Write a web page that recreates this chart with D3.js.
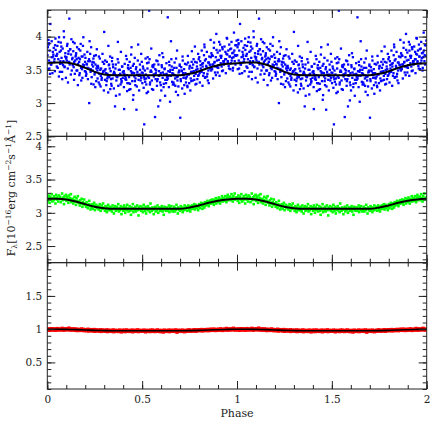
<!DOCTYPE html>
<html>
<head>
<meta charset="utf-8">
<script src="https://cdnjs.cloudflare.com/ajax/libs/d3/7.8.5/d3.min.js"></script>
<style>
  body { margin: 0; background: #fff; }
  svg { display: block; }
  .axis text { font-family: "DejaVu Serif", serif; font-size: 10.5px; fill: #222; }
  .axis path { display: none; }
  .axis line { stroke: #222; stroke-width: 1; }
</style>
</head>
<body>
<svg id="chart"></svg>
<script>
// Observed phases (one cycle, plotted twice)
const phase = [
  0.001,0.004,0.007,0.009,0.012,0.016,0.019,0.023,0.027,0.031,
  0.034,0.036,0.040,0.043,0.047,0.050,0.053,0.058,0.061,0.065,
  0.068,0.071,0.075,0.078,0.081,0.085,0.088,0.091,0.095,0.098,
  0.101,0.104,0.108,0.111,0.114,0.116,0.120,0.124,0.127,0.131,
  0.134,0.137,0.141,0.144,0.147,0.151,0.154,0.157,0.161,0.165,
  0.168,0.171,0.174,0.178,0.181,0.185,0.188,0.190,0.194,0.198,
  0.201,0.204,0.207,0.211,0.214,0.218,0.221,0.224,0.228,0.231,
  0.234,0.238,0.241,0.244,0.247,0.251,0.254,0.258,0.261,0.264,
  0.267,0.271,0.274,0.277,0.281,0.284,0.287,0.291,0.294,0.298,
  0.300,0.304,0.307,0.311,0.314,0.317,0.321,0.324,0.327,0.331,
  0.334,0.337,0.341,0.344,0.347,0.351,0.354,0.357,0.361,0.364,
  0.367,0.371,0.374,0.377,0.381,0.384,0.388,0.391,0.394,0.398,
  0.401,0.404,0.405,0.408,0.411,0.415,0.418,0.421,0.425,0.428,
  0.431,0.434,0.438,0.441,0.444,0.448,0.451,0.454,0.458,0.461,
  0.464,0.467,0.470,0.474,0.477,0.481,0.484,0.488,0.491,0.495,
  0.498,0.501,0.504,0.508,0.511,0.514,0.518,0.521,0.524,0.528,
  0.531,0.534,0.537,0.541,0.544,0.548,0.551,0.554,0.558,0.561,
  0.564,0.568,0.571,0.574,0.578,0.581,0.585,0.588,0.591,0.595,
  0.598,0.601,0.604,0.608,0.611,0.614,0.618,0.621,0.625,0.628,
  0.631,0.635,0.638,0.641,0.644,0.647,0.651,0.654,0.658,0.661,
  0.664,0.668,0.671,0.674,0.678,0.681,0.684,0.688,0.691,0.695,
  0.698,0.701,0.704,0.708,0.711,0.714,0.718,0.721,0.724,0.728,
  0.731,0.734,0.738,0.741,0.744,0.748,0.751,0.754,0.758,0.761,
  0.764,0.767,0.771,0.774,0.778,0.781,0.784,0.788,0.791,0.795,
  0.798,0.801,0.804,0.808,0.811,0.814,0.818,0.821,0.825,0.828,
  0.831,0.834,0.838,0.841,0.844,0.848,0.851,0.854,0.858,0.861,
  0.864,0.868,0.871,0.874,0.878,0.881,0.884,0.888,0.891,0.895,
  0.898,0.901,0.904,0.908,0.911,0.914,0.918,0.921,0.924,0.928,
  0.931,0.934,0.938,0.941,0.944,0.948,0.951,0.954,0.958,0.961,
  0.964,0.968,0.971,0.974,0.978,0.981,0.984,0.988,0.991,0.995
];

const blueFlux = [
  3.72,3.51,3.88,3.64,3.79,4.19,3.58,3.93,3.45,3.70,
  3.83,3.62,3.48,3.97,3.71,3.55,3.86,3.66,3.40,3.77,
  3.59,3.91,3.68,3.47,3.82,3.63,3.99,3.54,3.75,3.38,
  3.69,3.86,3.52,3.74,3.61,4.27,3.81,3.43,3.96,3.66,
  3.57,3.78,3.35,3.90,3.64,3.72,3.49,3.84,3.27,3.68,
  3.62,3.45,3.79,3.53,3.70,3.38,3.86,3.99,3.57,3.48,
  3.68,3.41,3.59,3.77,3.36,3.52,3.00,3.63,3.47,3.84,
  3.39,3.62,3.55,3.28,3.71,3.46,3.58,3.33,3.81,3.49,
  3.56,3.31,3.44,3.67,3.25,3.52,3.38,3.74,3.47,3.19,
  4.07,3.35,3.51,3.27,3.62,3.44,3.16,3.57,3.39,3.70,
  3.48,3.29,3.63,3.37,3.54,3.22,3.45,2.95,3.58,3.34,
  3.41,3.66,3.26,3.50,3.13,3.44,3.77,3.31,3.55,3.38,
  3.47,3.24,2.91,3.59,3.36,3.71,3.42,3.18,3.53,3.30,
  3.39,3.62,3.21,3.48,3.84,3.33,3.56,3.12,3.45,3.68,
  3.27,3.51,2.90,3.43,3.64,3.35,3.19,3.58,3.41,3.74,
  3.46,3.30,3.55,3.23,2.68,3.49,3.67,3.37,3.15,3.52,
  3.40,3.61,4.39,3.28,3.47,3.82,3.34,3.55,3.20,3.43,
  3.58,2.79,3.36,3.49,3.26,3.63,2.95,3.41,3.72,3.31,
  3.45,3.19,3.54,3.38,3.69,3.29,3.51,3.11,3.43,3.60,
  3.35,4.29,3.48,3.24,3.57,3.02,3.41,3.66,3.32,3.50,
  3.44,3.28,3.61,3.37,3.17,3.53,3.79,3.40,3.25,3.47,
  3.56,2.78,3.33,3.49,3.22,3.64,3.38,3.51,3.14,3.45,
  3.37,3.58,3.26,3.71,3.43,3.30,3.55,3.19,3.47,3.62,
  3.53,3.34,3.66,3.41,3.85,3.28,3.50,3.61,3.36,3.74,
  3.42,3.69,3.31,3.57,3.48,3.79,3.26,3.60,3.45,3.88,
  3.64,3.39,3.56,3.77,3.44,3.61,3.30,3.70,3.52,3.95,
  3.49,3.72,3.58,3.37,3.83,3.61,3.46,3.69,4.04,3.54,
  3.76,3.53,3.65,3.41,3.88,3.60,3.71,3.48,3.81,3.63,
  3.58,3.85,3.66,3.45,3.74,3.97,3.61,3.79,3.52,3.70,
  3.81,3.60,3.92,3.68,3.49,3.76,4.06,3.63,3.87,3.71
];

// extra blue-band observations
const bluePhase2 = [
  0.018,0.003,0.029,0.011,0.024,0.006,0.032,0.014,0.021,0.009,
  0.049,0.038,0.062,0.044,0.055,0.035,0.066,0.041,0.059,0.052,
  0.083,0.072,0.094,0.069,0.087,0.079,0.099,0.074,0.091,0.077,
  0.112,0.103,0.129,0.118,0.106,0.125,0.133,0.109,0.121,0.115,
  0.149,0.139,0.162,0.136,0.155,0.145,0.166,0.142,0.158,0.152,
  0.183,0.172,0.196,0.169,0.188,0.176,0.199,0.179,0.192,0.186,
  0.216,0.203,0.226,0.209,0.232,0.212,0.220,0.206,0.229,0.223,
  0.249,0.236,0.259,0.243,0.265,0.239,0.253,0.246,0.262,0.256,
  0.282,0.269,0.292,0.276,0.296,0.272,0.286,0.279,0.289,0.299,
  0.316,0.302,0.326,0.309,0.332,0.305,0.319,0.313,0.329,0.322,
  0.349,0.336,0.359,0.342,0.365,0.339,0.352,0.346,0.362,0.356,
  0.382,0.369,0.392,0.375,0.398,0.372,0.386,0.379,0.395,0.389,
  0.416,0.403,0.426,0.409,0.431,0.406,0.419,0.413,0.429,0.422,
  0.449,0.436,0.459,0.442,0.465,0.439,0.452,0.446,0.462,0.456,
  0.482,0.469,0.492,0.475,0.498,0.472,0.486,0.479,0.495,0.489,
  0.516,0.503,0.526,0.509,0.531,0.506,0.519,0.513,0.529,0.522,
  0.549,0.536,0.559,0.542,0.565,0.539,0.552,0.546,0.562,0.556,
  0.582,0.569,0.592,0.575,0.598,0.572,0.586,0.579,0.595,0.589,
  0.616,0.603,0.626,0.609,0.631,0.606,0.619,0.613,0.629,0.622,
  0.649,0.636,0.659,0.642,0.665,0.639,0.652,0.646,0.662,0.656,
  0.682,0.669,0.692,0.675,0.698,0.672,0.686,0.679,0.695,0.689,
  0.716,0.703,0.726,0.709,0.731,0.706,0.719,0.713,0.729,0.722,
  0.749,0.736,0.759,0.742,0.765,0.739,0.752,0.746,0.762,0.756,
  0.782,0.769,0.792,0.775,0.798,0.772,0.786,0.779,0.795,0.789,
  0.816,0.803,0.826,0.809,0.831,0.806,0.819,0.813,0.829,0.822,
  0.849,0.836,0.859,0.842,0.865,0.839,0.852,0.846,0.862,0.856,
  0.882,0.869,0.892,0.875,0.898,0.872,0.886,0.879,0.895,0.889,
  0.916,0.903,0.926,0.909,0.931,0.906,0.919,0.913,0.929,0.922,
  0.949,0.936,0.959,0.942,0.965,0.939,0.952,0.946,0.962,0.956,
  0.982,0.969,0.992,0.975,0.998,0.972,0.986,0.979,0.996,0.989
];

const blueFlux2 = [
  3.61,3.84,3.77,3.52,3.69,3.95,3.73,3.44,3.58,3.90,
  3.71,3.66,3.99,3.80,3.53,3.62,3.47,3.87,3.92,3.74,
  3.57,3.79,3.70,3.63,4.08,3.36,3.67,3.85,3.55,3.60,
  3.78,3.64,3.49,3.58,3.89,3.73,3.68,3.31,3.81,3.62,
  3.70,3.54,3.59,3.92,3.66,3.44,3.81,3.62,3.49,3.75,
  3.51,3.66,3.73,3.42,3.58,3.89,3.62,3.34,3.55,3.70,
  3.63,3.47,3.74,3.58,3.29,3.53,3.66,3.44,3.51,3.93,
  3.43,3.58,3.52,3.67,3.37,3.49,3.24,3.61,3.55,3.72,
  3.41,3.53,3.62,3.28,3.48,3.70,3.35,3.50,3.44,3.59,
  3.37,3.49,3.58,3.45,3.21,3.64,3.40,3.33,3.52,3.86,
  3.44,3.36,3.52,3.68,3.40,3.26,3.47,3.58,3.11,3.43,
  3.50,3.39,3.33,3.61,3.46,3.92,3.28,3.42,3.55,3.36,
  3.35,3.48,3.57,3.41,3.20,3.44,3.66,3.38,3.51,3.30,
  3.46,3.29,3.40,3.73,3.37,3.53,3.05,3.45,3.33,3.59,
  3.41,3.54,3.34,3.47,3.62,3.25,3.43,3.88,3.38,3.50,
  3.32,3.45,3.60,3.39,3.17,3.52,3.43,3.36,3.69,3.28,
  3.47,3.38,3.54,3.31,3.43,3.66,3.21,3.49,3.40,3.57,
  3.36,3.51,3.42,3.64,3.27,3.45,3.58,3.33,3.04,3.48,
  3.43,3.57,3.30,3.46,3.39,3.75,3.52,3.24,3.44,3.35,
  3.50,3.37,3.45,3.62,3.31,3.41,3.93,3.47,3.28,3.55,
  3.39,3.53,3.46,3.26,3.58,3.42,3.34,3.67,3.49,3.12,
  3.45,3.36,3.59,3.48,3.31,3.54,3.42,3.70,3.38,3.27,
  3.52,3.40,3.33,3.61,3.47,3.24,3.56,3.43,3.78,3.37,
  3.44,3.58,3.51,3.35,3.66,3.48,3.29,3.62,3.41,3.55,
  3.59,3.45,3.72,3.52,3.38,3.63,3.55,3.47,3.84,3.41,
  3.49,3.66,3.57,3.40,3.75,3.54,3.61,3.34,3.69,3.58,
  3.62,3.51,3.80,3.58,3.46,3.71,3.55,3.91,3.64,3.42,
  3.68,3.57,3.49,3.79,3.63,3.92,3.55,3.71,3.60,3.84,
  3.73,3.59,3.88,3.66,3.51,3.77,3.63,3.98,3.70,3.56,
  3.69,3.82,3.58,3.75,3.94,3.64,3.79,3.53,3.87,3.72
];

const greenFlux = [
  3.23,3.18,3.26,3.21,3.15,3.24,3.20,3.28,3.17,3.22,
  3.19,3.25,3.22,3.14,3.27,3.20,3.23,3.17,3.26,3.21,
  3.24,3.16,3.21,3.29,3.19,3.23,3.13,3.25,3.20,3.27,
  3.18,3.24,3.21,3.15,3.26,3.19,3.22,3.28,3.16,3.20,
  3.21,3.14,3.19,3.24,3.17,3.12,3.22,3.18,3.25,3.15,
  3.17,3.11,3.19,3.14,3.21,3.09,3.16,3.13,3.20,3.12,
  3.14,3.09,3.16,3.11,3.07,3.13,3.18,3.10,3.05,3.12,
  3.08,3.13,3.06,3.11,3.15,3.04,3.09,3.12,3.07,3.10,
  3.10,3.05,3.09,3.13,3.03,3.07,3.11,3.06,3.14,3.08,
  3.07,3.03,3.10,3.05,3.01,3.08,3.12,3.04,3.06,3.09,
  3.04,3.08,3.02,3.11,3.06,2.99,3.07,3.10,3.03,3.05,
  3.09,3.05,3.13,3.02,3.07,3.04,3.10,2.98,3.06,3.08,
  3.03,3.07,3.11,3.05,3.00,3.08,3.04,3.12,3.06,3.02,
  3.06,3.10,3.03,2.97,3.08,3.05,3.13,3.01,3.07,3.04,
  3.09,3.02,3.06,3.11,3.04,2.96,3.08,3.05,3.10,3.03,
  3.05,3.08,3.01,3.12,3.06,3.03,3.09,2.99,3.07,3.04,
  3.10,3.04,3.07,3.01,3.14,3.06,3.03,3.08,3.05,2.98,
  3.06,3.09,3.02,3.07,3.04,3.11,3.00,3.06,3.08,3.03,
  3.04,3.07,3.10,3.02,3.06,2.97,3.09,3.05,3.03,3.08,
  3.07,3.03,3.06,3.11,3.01,3.08,3.04,3.10,3.05,3.02,
  3.05,3.09,3.02,3.07,3.04,3.12,3.06,2.99,3.08,3.04,
  3.06,3.03,3.10,3.05,3.08,3.01,3.07,3.04,3.11,3.06,
  3.05,3.09,3.03,3.08,3.11,3.04,3.07,3.02,3.10,3.06,
  3.11,3.06,3.09,3.13,3.05,3.08,3.12,3.07,3.10,3.04,
  3.09,3.13,3.07,3.12,3.15,3.10,3.06,3.14,3.11,3.08,
  3.16,3.11,3.15,3.12,3.18,3.13,3.10,3.17,3.14,3.19,
  3.14,3.18,3.20,3.15,3.12,3.19,3.17,3.22,3.14,3.18,
  3.20,3.16,3.23,3.18,3.14,3.21,3.19,3.25,3.17,3.22,
  3.22,3.18,3.25,3.20,3.16,3.23,3.27,3.19,3.24,3.21,
  3.24,3.19,3.28,3.22,3.17,3.25,3.21,3.29,3.20,3.23
];

const redFlux = [
  0.998,0.989,1.004,0.993,0.982,1.001,0.995,1.008,0.986,0.997,
  0.991,1.005,0.996,0.983,1.000,0.992,1.009,0.987,0.998,0.994,
  1.002,0.988,0.996,1.013,0.991,0.999,0.984,1.005,0.993,1.000,
  0.995,1.006,0.989,0.998,1.016,0.992,1.001,0.985,0.997,1.003,
  0.990,0.999,0.984,1.004,0.993,0.987,1.000,0.978,0.996,0.991,
  0.986,0.997,0.980,0.992,1.003,0.983,0.989,0.998,0.976,0.990,
  0.982,0.993,0.976,0.987,0.999,0.971,0.985,0.994,0.979,0.988,
  0.978,0.989,0.972,0.984,0.995,0.968,0.981,0.990,0.975,0.983,
  0.976,0.985,0.970,0.980,0.991,0.965,0.978,0.987,0.973,0.981,
  0.974,0.983,0.968,0.979,0.989,0.963,0.976,0.985,0.971,0.980,
  0.977,0.966,0.982,0.972,0.988,0.961,0.975,0.984,0.969,0.978,
  0.973,0.981,0.964,0.976,0.987,0.970,0.979,0.958,0.974,0.983,
  0.968,0.978,0.985,0.972,0.962,0.977,0.989,0.967,0.975,0.980,
  0.976,0.965,0.982,0.971,0.979,0.986,0.960,0.974,0.981,0.969,
  0.972,0.984,0.966,0.978,0.990,0.963,0.976,0.982,0.968,0.977,
  0.980,0.967,0.975,0.986,0.971,0.979,0.959,0.983,0.973,0.976,
  0.969,0.981,0.974,0.963,0.985,0.972,0.978,0.988,0.966,0.975,
  0.977,0.964,0.983,0.970,0.976,0.989,0.967,0.974,0.980,0.962,
  0.973,0.982,0.968,0.977,0.956,0.979,0.986,0.971,0.965,0.978,
  0.980,0.969,0.975,0.987,0.962,0.976,0.983,0.968,0.974,0.981,
  0.971,0.984,0.966,0.978,0.989,0.972,0.954,0.977,0.982,0.967,
  0.976,0.983,0.969,0.979,0.965,0.986,0.973,0.978,0.961,0.980,
  0.978,0.968,0.985,0.974,0.981,0.990,0.970,0.977,0.983,0.972,
  0.981,0.973,0.987,0.976,0.992,0.979,0.968,0.984,0.977,0.989,
  0.983,0.991,0.976,0.987,0.980,0.995,0.974,0.985,0.979,0.993,
  0.986,0.978,0.993,0.982,0.997,0.989,0.976,0.991,0.984,1.000,
  0.988,0.996,0.981,0.992,1.002,0.985,0.994,0.979,0.990,0.998,
  0.991,0.983,0.999,0.994,0.987,1.005,0.989,0.997,0.980,0.993,
  0.994,1.001,0.986,0.996,1.011,0.990,0.999,0.984,1.003,0.995,
  0.997,0.988,1.004,0.993,1.000,1.014,0.991,0.998,0.985,1.002
];

// Model light curves
const modelPhase = [0,0.05,0.1,0.15,0.2,0.25,0.3,0.35,0.4,0.45,0.5,0.55,0.6,0.65,0.7,0.75,0.8,0.85,0.9,0.95,1];
const blueModel  = [3.60,3.61,3.61,3.58,3.53,3.47,3.43,3.42,3.42,3.42,3.42,3.42,3.42,3.42,3.42,3.44,3.48,3.53,3.57,3.59,3.60];
const greenModel = [3.21,3.21,3.20,3.17,3.13,3.09,3.07,3.06,3.06,3.06,3.06,3.06,3.06,3.06,3.06,3.08,3.11,3.15,3.18,3.20,3.21];
const redModel   = [0.998,0.998,0.996,0.993,0.988,0.982,0.978,0.976,0.976,0.976,0.976,0.976,0.976,0.976,0.976,0.978,0.982,0.987,0.992,0.996,0.998];

// Axis ticks
const xTicks = [0, 0.5, 1, 1.5, 2];
const topTicks = [2.5, 3, 3.5, 4];
const midTicks = [2.5, 3, 3.5, 4];
const lowTicks = [0.5, 1, 1.5];

const width = 436, height = 436;
const margin = {left: 47.3, right: 9.3, top: 10, bottom: 47};
const panelH = (height - margin.top - margin.bottom) / 3;

const svg = d3.select('#chart').attr('width', width).attr('height', height);

const xScale = d3.scaleLinear()
    .domain([0, 2])
    .range([margin.left, width - margin.right]);

const zipPts = (ph, fl) => ph.map((v, j) => [v, fl[j]]);

const panels = [
    {obs: zipPts(phase, blueFlux).concat(zipPts(bluePhase2, blueFlux2)), model: blueModel,
        color: '#0000ff', domain: [2.5, 4.4], ticks: topTicks, size: 2.3},
    {obs: zipPts(phase, greenFlux), model: greenModel, color: '#00ff00', domain: [2.25, 4.15], ticks: midTicks, size: 2.6},
    {obs: zipPts(phase, redFlux), model: redModel, color: '#ff0000', domain: [0.1, 2.0], ticks: lowTicks, size: 3.3}
];

panels.forEach((p, i) => {
    const top = margin.top + i * panelH;
    const bottom = top + panelH;
    const yScale = d3.scaleLinear().domain(p.domain).range([bottom, top]);

    const g = svg.append('g');
    const clipId = 'clip' + i;
    svg.append('clipPath').attr('id', clipId)
        .append('rect')
        .attr('x', xScale(0)).attr('y', top)
        .attr('width', xScale(2) - xScale(0)).attr('height', panelH);

    // points, phase repeated over two cycles
    const pts = [];
    [0, 1].forEach(c => p.obs.forEach(d => pts.push([d[0] + c, d[1]])));
    g.append('g').attr('clip-path', `url(#${clipId})`)
        .selectAll('rect')
        .data(pts)
        .join('rect')
        .attr('x', d => xScale(d[0]) - p.size / 2)
        .attr('y', d => yScale(d[1]) - p.size / 2)
        .attr('width', p.size)
        .attr('height', p.size)
        .attr('fill', p.color);

    // model curve
    const curve = [];
    [0, 1].forEach(c => modelPhase.forEach((ph, j) => {
        if (c === 1 && j === 0) return;
        curve.push([ph + c, p.model[j]]);
    }));
    g.append('path')
        .datum(curve)
        .attr('clip-path', `url(#${clipId})`)
        .attr('fill', 'none')
        .attr('stroke', '#000')
        .attr('stroke-width', i === 2 ? 1.6 : 2)
        .attr('d', d3.line().x(d => xScale(d[0])).y(d => yScale(d[1])).curve(d3.curveMonotoneX));

    const minorY = d3.range(Math.ceil(p.domain[0] * 10), Math.floor(p.domain[1] * 10 + 0.001) + 1).map(v => v / 10);
    const minorX = d3.range(0, 21).map(v => v / 10);

    // y axes, left and right
    g.append('g').attr('class', 'axis')
        .attr('transform', `translate(${xScale(0)},0)`)
        .call(d3.axisLeft(yScale).tickValues(p.ticks).tickSize(-8).tickPadding(5).tickFormat(d => String(d)));
    g.append('g').attr('class', 'axis')
        .attr('transform', `translate(${xScale(0)},0)`)
        .call(d3.axisLeft(yScale).tickValues(minorY).tickSize(-4).tickFormat(''));
    g.append('g').attr('class', 'axis')
        .attr('transform', `translate(${xScale(2)},0)`)
        .call(d3.axisRight(yScale).tickValues(p.ticks).tickSize(-8).tickFormat(''));
    g.append('g').attr('class', 'axis')
        .attr('transform', `translate(${xScale(2)},0)`)
        .call(d3.axisRight(yScale).tickValues(minorY).tickSize(-4).tickFormat(''));

    // x axes, top and bottom
    g.append('g').attr('class', 'axis')
        .attr('transform', `translate(0,${top})`)
        .call(d3.axisTop(xScale).tickValues(xTicks).tickSize(-8).tickFormat(''));
    g.append('g').attr('class', 'axis')
        .attr('transform', `translate(0,${top})`)
        .call(d3.axisTop(xScale).tickValues(minorX).tickSize(-4).tickFormat(''));
    g.append('g').attr('class', 'axis')
        .attr('transform', `translate(0,${bottom})`)
        .call(d3.axisBottom(xScale).tickValues(xTicks).tickSize(-8).tickPadding(7)
            .tickFormat(i === 2 ? (d => String(d)) : ''));
    g.append('g').attr('class', 'axis')
        .attr('transform', `translate(0,${bottom})`)
        .call(d3.axisBottom(xScale).tickValues(minorX).tickSize(-4).tickFormat(''));

    // frame
    g.append('rect')
        .attr('x', xScale(0)).attr('y', top)
        .attr('width', xScale(2) - xScale(0)).attr('height', panelH)
        .attr('fill', 'none').attr('stroke', '#222').attr('stroke-width', 1);
});

// axis titles
svg.append('text')
    .attr('x', (xScale(0) + xScale(2)) / 2)
    .attr('y', 417)
    .attr('text-anchor', 'middle')
    .style('font-family', '"DejaVu Serif", serif')
    .style('font-size', '11px')
    .attr('fill', '#222')
    .text('Phase');

const yTitle = svg.append('text')
    .attr('transform', 'translate(15,188) rotate(-90)')
    .attr('text-anchor', 'middle')
    .style('font-family', '"DejaVu Serif", serif')
    .style('font-size', '11px')
    .attr('fill', '#222');
yTitle.append('tspan').text('F');
yTitle.append('tspan').attr('dy', 2).style('font-size', '7.5px').text('λ');
yTitle.append('tspan').attr('dy', -2).text('[10');
yTitle.append('tspan').attr('dy', -4).style('font-size', '7.5px').text('−16');
yTitle.append('tspan').attr('dy', 4).text('erg cm');
yTitle.append('tspan').attr('dy', -4).style('font-size', '7.5px').text('−2');
yTitle.append('tspan').attr('dy', 4).text('s');
yTitle.append('tspan').attr('dy', -4).style('font-size', '7.5px').text('−1');
yTitle.append('tspan').attr('dy', 4).text('Å');
yTitle.append('tspan').attr('dy', -4).style('font-size', '7.5px').text('−1');
yTitle.append('tspan').attr('dy', 4).text(']');
</script>
</body>
</html>
